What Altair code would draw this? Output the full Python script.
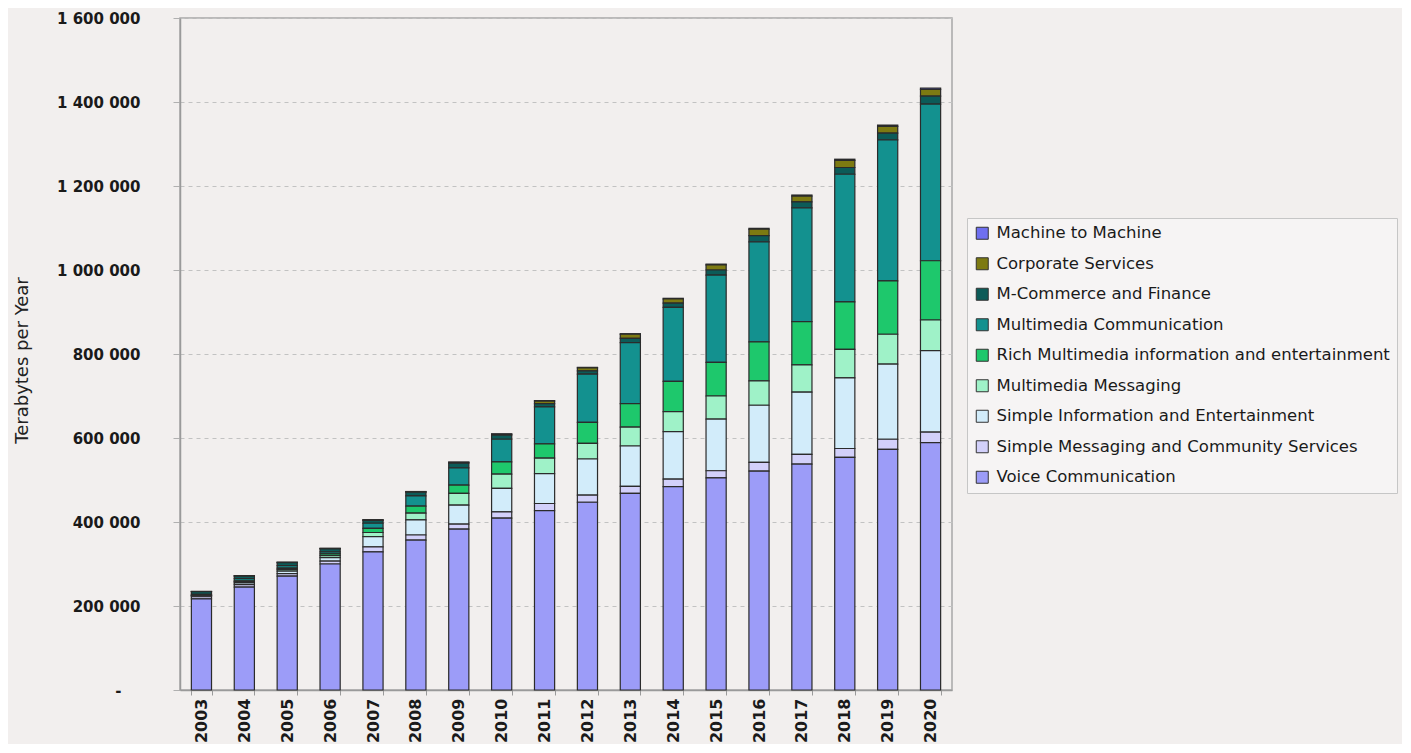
import altair as alt
import pandas as pd

years = [str(y) for y in range(2003, 2021)]

# values in thousands of terabytes per year
voice = [217, 245, 271, 300, 329, 357, 383, 409, 427, 447, 468, 484, 505, 521, 538, 554, 573, 589]
simple_msg = [5, 6, 6, 7, 12, 12, 12, 15, 17, 17, 17, 18, 17, 21, 23, 21, 24, 25]
simple_info = [2, 4, 6, 8, 24, 36, 45, 56, 71, 86, 96, 113, 123, 136, 148, 168, 179, 194]
mm_msg = [1, 3, 4, 5, 10, 16, 28, 34, 37, 37, 45, 48, 55, 58, 65, 68, 71, 73]
rich_mm = [1, 2, 3, 4, 10, 17, 20, 29, 34, 50, 56, 72, 80, 93, 103, 113, 127, 141]
mm_comm = [2, 5, 6, 5, 12, 24, 41, 54, 88, 115, 145, 176, 208, 238, 271, 304, 336, 373]
m_commerce = [6, 6, 7, 7, 7, 9, 11, 10, 8, 8, 10, 10, 12, 15, 14, 16, 16, 19]
corporate = [0.5, 1, 1, 1, 1, 1, 2, 2, 6, 7, 10, 10, 12, 15, 14, 17, 16, 16]
m2m = [0.2, 0.3, 0.3, 0.4, 0.5, 0.6, 0.8, 1, 1, 1.2, 1.4, 1.6, 2, 2.2, 2.5, 2.8, 3, 3.3]

series_names = [
    "Machine to Machine",
    "Corporate Services",
    "M-Commerce and Finance",
    "Multimedia Communication",
    "Rich Multimedia information and entertainment",
    "Multimedia Messaging",
    "Simple Information and Entertainment",
    "Simple Messaging and Community Services",
    "Voice Communication",
]
series_values = [m2m, corporate, m_commerce, mm_comm, rich_mm, mm_msg, simple_info, simple_msg, voice]
colors = ["#6f6ff0", "#7d7a12", "#0c5b58", "#13918f", "#1ec86c", "#9ff2c8", "#d2ecfa", "#d2d0fa", "#9c9cf8"]

y_ticks = [0, 200000, 400000, 600000, 800000, 1000000, 1200000, 1400000, 1600000]

rows = []
n = len(series_names)
for i, (name, vals) in enumerate(zip(series_names, series_values)):
    for yr, v in zip(years, vals):
        rows.append({"year": yr, "series": name, "value": v * 1000, "stack": n - 1 - i})
df = pd.DataFrame(rows)

label_expr = (
    "datum.value == 0 ? '-' : (datum.value >= 1000000 ? "
    "'1 ' + format((datum.value - 1000000) / 1000, '03d') + ' 000' : "
    "format(datum.value / 1000, 'd') + ' 000')"
)

FONT = "DejaVu Sans"

chart = (
    alt.Chart(df)
    .mark_bar(stroke="#2b2b2b", strokeWidth=1.2)
    .encode(
        x=alt.X(
            "year:N",
            sort=years,
            title=None,
            scale=alt.Scale(paddingInner=0.53, paddingOuter=0.265),
            axis=alt.Axis(
                labelAngle=270,
                labelFont=FONT,
                labelFontWeight="bold",
                labelFontSize=16,
                labelColor="#1a1a1a",
                tickBand="extent",
                tickSize=5,
                tickColor="#9a9a9a",
                domainColor="#9a9a9a",
                domainWidth=1.5,
                labelPadding=3,
                grid=False,
            ),
        ),
        y=alt.Y(
            "value:Q",
            stack="zero",
            scale=alt.Scale(domain=[0, 1600000], nice=False),
            title="Terabytes per Year",
            axis=alt.Axis(
                values=y_ticks,
                labelExpr=label_expr,
                labelFont=FONT,
                labelFontWeight="bold",
                labelFontSize=15,
                labelColor="#1a1a1a",
                labelPadding={"condition": {"test": "datum.value == 0", "value": 52}, "value": 33},
                tickSize=7,
                tickColor="#b0b0b0",
                domainColor="#9a9a9a",
                domainWidth=1.5,
                grid=True,
                gridColor="#c2c2c2",
                gridDash=[4, 4],
                gridWidth=1,
                titleFont=FONT,
                titleFontSize=18,
                titleFontWeight="normal",
                titleColor="#222222",
                titleAngle=270,
                titleX=-158,
                titleY=342,
                titleAlign="center",
                titleBaseline="middle",
            ),
        ),
        color=alt.Color(
            "series:N",
            sort=series_names,
            scale=alt.Scale(domain=series_names, range=colors),
            legend=alt.Legend(
                title=None,
                orient="none",
                legendX=787,
                legendY=200,
                labelFont=FONT,
                labelFontSize=16.5,
                labelColor="#1a1a1a",
                labelLimit=600,
                labelOffset=6,
                symbolType="square",
                symbolSize=144,
                symbolStrokeColor="#333333",
                symbolStrokeWidth=1,
                symbolOpacity=1,
                rowPadding=13.5,
                padding=7,
                fillColor="rgba(255,255,255,0.35)",
                strokeColor="#c6c6c6",
            ),
        ),
        order=alt.Order("stack:Q", sort="ascending"),
    )
    .properties(
        width=772,
        height=672,
        background="#f2efee",
        padding={"left": 172, "top": 10, "right": 450, "bottom": 54},
        autosize=alt.AutoSizeParams(type="none"),
    )
    .configure_view(stroke="#a8a8a8", strokeWidth=1.5)
)

chart.save("out.html", embed_options={"renderer": "svg", "actions": False})
